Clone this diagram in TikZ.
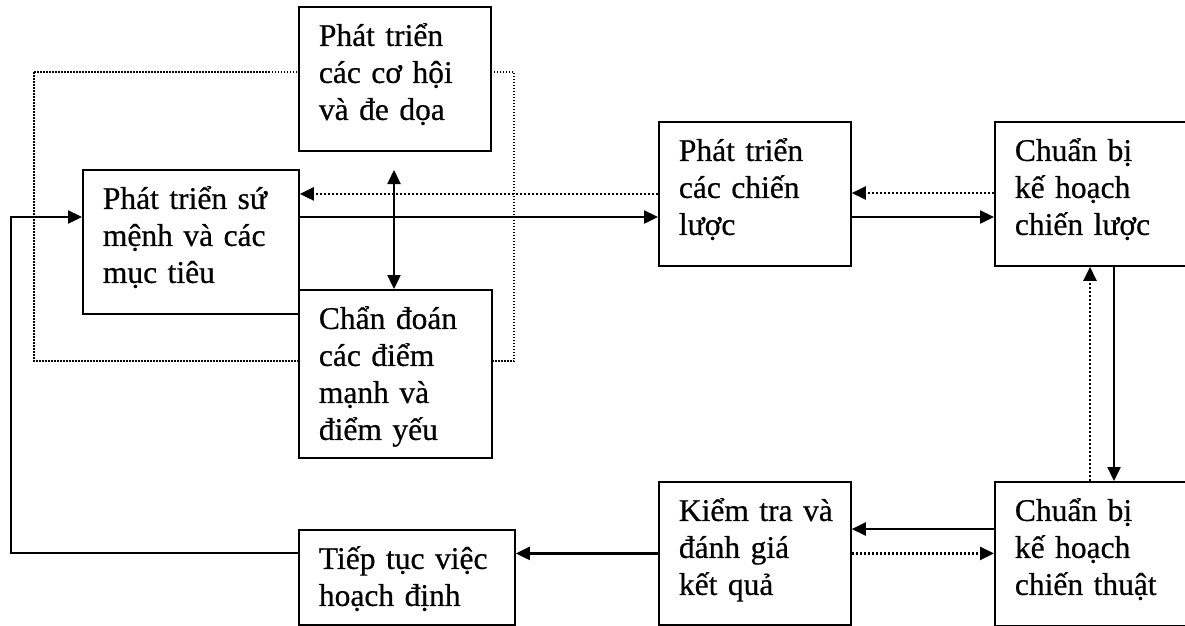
\documentclass[tikz,border=0pt]{standalone}
\usepackage{fontspec}
\setmainfont{Liberation Serif}[FakeBold=0.6]
\usetikzlibrary{arrows.meta}
\tikzset{
  box/.style={draw, line width=1.8pt, fill=white, anchor=north west,
    inner xsep=20pt, inner ysep=0pt, align=left, text height=39pt,
    font=\fontsize{31.5}{37}\selectfont},
  solidarrow/.style={line width=2.4pt, -{Triangle[length=14pt,width=13pt]}},
  dotarrow/.style={line width=2.4pt, dash pattern=on 2pt off 2pt, -{Triangle[length=14pt,width=13pt]}},
  dotframe/.style={line width=1.5pt, dash pattern=on 1.5pt off 1.5pt}
}
\begin{document}
\begin{tikzpicture}[x=1pt,y=-1pt]
\useasboundingbox (0,0) rectangle (1185,625);
\draw[dotframe] (34,72) rectangle (514,361);
\node[box, text width=152pt, text depth=105pt] (opp) at (298,6) {Phát~triển\\các~cơ~hội\\và~đe~dọa};
\node[box, text width=176pt, text depth=105pt] (mission) at (82,169) {Phát~triển~sứ\\mệnh~và~các\\mục~tiêu};
\node[box, text width=153pt, text depth=129pt] (diag) at (298,289) {Chẩn~đoán\\các~điểm\\mạnh~và\\điểm~yếu};
\node[box, text width=152pt, text depth=105pt] (strat) at (658,121) {Phát~triển\\các~chiến\\lược};
\node[box, text width=200pt, text depth=105pt] (splan) at (994,121) {Chuẩn~bị\\kế~hoạch\\chiến~lược};
\node[box, text width=200pt, text depth=105pt] (tplan) at (994,481) {Chuẩn~bị\\kế~hoạch\\chiến~thuật};
\node[box, text width=152pt, text depth=104pt] (eval) at (658,481) {Kiểm~tra~và\\đánh~giá\\kết~quả};
\node[box, text width=176pt, text depth=56pt] (cont) at (298,529) {Tiếp~tục~việc\\hoạch~định};
\coordinate (dtop) at (394,170);
% double arrow between the analysis boxes
\draw[line width=2.4pt, {Triangle[length=14pt,width=13pt]}-{Triangle[length=14pt,width=13pt]}] (dtop) -- (diag.north -| dtop);
% mission <-> strategies
\draw[dotarrow] (strat.west) -- (mission.east |- strat.west);
\draw[solidarrow] ([yshift=-48pt]mission.north east) -- ([yshift=-96pt]strat.north west);
% strategies <-> strategic plan
\draw[dotarrow] ([yshift=-72pt]splan.north west) -- ([yshift=-72pt]strat.north east);
\draw[solidarrow] ([yshift=-96pt]strat.north east) -- ([yshift=-96pt]splan.north west);
% strategic plan <-> tactical plan
\draw[solidarrow] ([xshift=120pt]splan.south west) -- ([xshift=120pt]tplan.north west);
\draw[dotarrow] ([xshift=96pt]tplan.north west) -- ([xshift=96pt]splan.south west);
% tactical plan <-> evaluation
\draw[solidarrow] ([yshift=-48pt]tplan.north west) -- ([yshift=-48pt]eval.north east);
\draw[dotarrow] (eval.east) -- (tplan.west |- eval.east);
% evaluation -> continue
\draw[solidarrow] (eval.west) -- (cont.east |- eval.west);
% feedback loop
\draw[solidarrow] ([yshift=-24pt]cont.north west) -- ++(-287,0) |- ([yshift=-48pt]mission.north west);
\end{tikzpicture}
\end{document}
